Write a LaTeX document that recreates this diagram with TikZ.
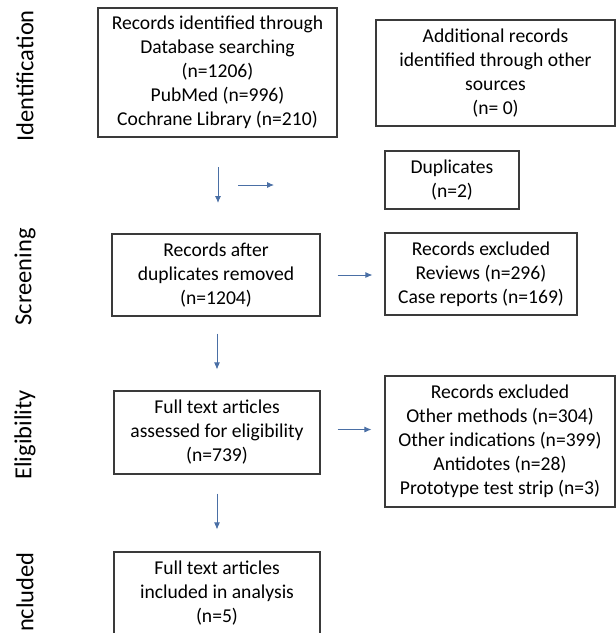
\documentclass[tikz,border=0pt]{standalone}
\usepackage{fontspec}
\setmainfont{Carlito}
\usetikzlibrary{arrows.meta,calc}
\definecolor{flowblue}{HTML}{4A6FA5}
\definecolor{boxgrey}{HTML}{3A3A3A}
\begin{document}
\begin{tikzpicture}[x = 1pt, y = -1pt,
                   box/.style={draw=boxgrey, line width=1.1pt, align=center, inner sep=2pt,
                               font=\fontsize{19.6}{24}\selectfont},
                   phase/.style={rotate=90, anchor=east, inner sep=0pt, font=\fontsize{24.5}{28}\selectfont},
                   flow/.style={draw=flowblue, line width=0.9pt, -{Latex[length=7pt,width=6pt]}}]
	\useasboundingbox (0,0) rectangle (616,633);
	\node[phase] (ident) at (25,10) {Identification};
	\node[phase] (screen) at (25,228) {Screening};
	\node[phase] (elig) at (25,390) {Eligibility};
	\node[phase] (incl) at (25,552) {Included};
	\begin{scope}[every node/.style={box}]
	\node[minimum width=239pt, minimum height=129pt] (found) at (217.5,72.5)
		{Records identified through\\Database searching\\(n=1206)\\PubMed (n=996)\\Cochrane Library (n=210)};
	\node[minimum width=239pt, minimum height=106pt] (other) at (495.5,73)
		{Additional records\\identified through other\\sources\\(n= 0)};
	\node[minimum width=134pt, minimum height=58pt] (dupl) at (452,180)
		{Duplicates\\(n=2)};
	\node[minimum width=208pt, minimum height=82pt] (after) at (216,275)
		{Records after\\duplicates removed\\(n=1204)};
	\node[minimum width=192pt, minimum height=82pt] (excla) at (481,274)
		{Records excluded\\Reviews (n=296)\\Case reports (n=169)};
	\node[minimum width=206pt, minimum height=83pt] (full) at (217,432.5)
		{Full text articles\\assessed for eligibility\\(n=739)};
	\node[minimum width=230pt, minimum height=131pt] (exclb) at (500,441.5)
		{Records excluded\\Other methods (n=304)\\Other indications (n=399)\\Antidotes (n=28)\\Prototype test strip (n=3)};
	\node[minimum width=206pt, minimum height=83pt] (final) at (217,593.5)
		{Full text articles\\included in analysis\\(n=5)};
	\end{scope}
	\coordinate (dupfrom) at (238,185);
	\coordinate (dupto) at (274,185);
	\draw[flow] (218,167) -- (218,203);
	\draw[flow] (dupfrom) -- (dupto);
	\draw[flow, shorten <=17pt, shorten >=12pt] (after.east) -- (after.east -| excla.west);
	\draw[flow, shorten <=17pt, shorten >=21pt] (after.south -| full.south) -- (full.north);
	\draw[flow, shorten <=17pt, shorten >=13pt] ($(full.east)+(0,-3)$) -- ($(full.east -| exclb.west)+(0,-3)$);
	\draw[flow, shorten <=19pt, shorten >=22pt] (full.south) -- (final.north);
\end{tikzpicture}
\end{document}
